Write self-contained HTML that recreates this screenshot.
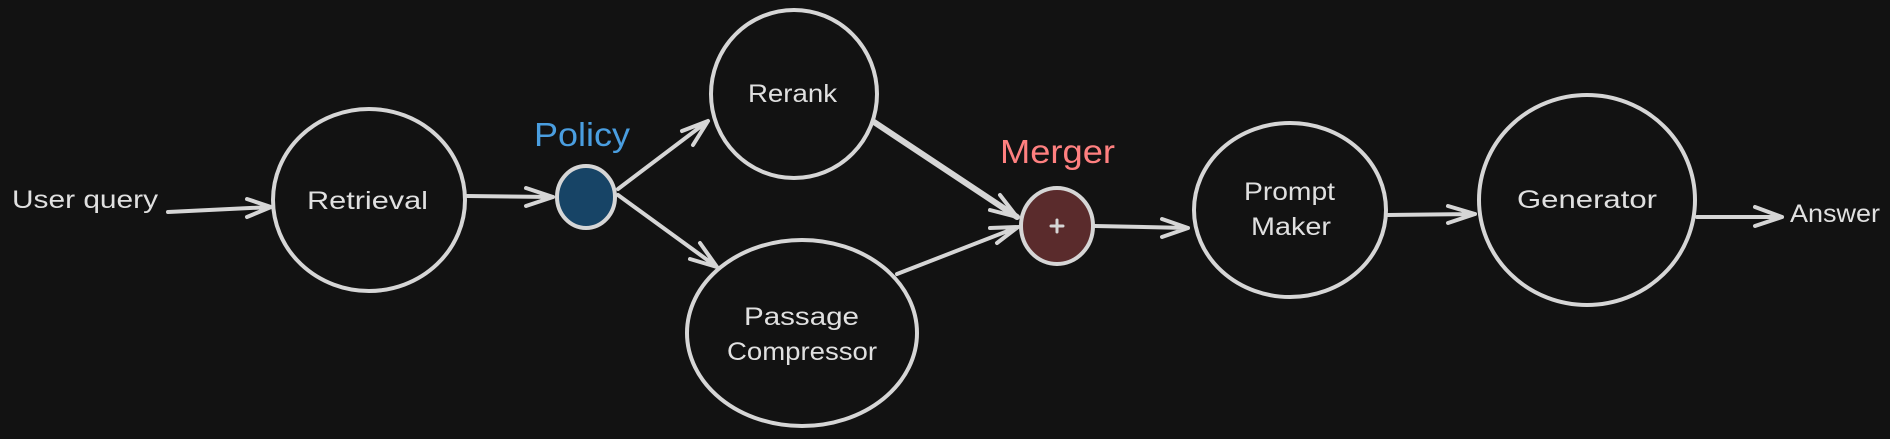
<!DOCTYPE html>
<html>
<head>
<meta charset="utf-8">
<style>
  html,body{margin:0;padding:0;background:#121212;}
  body{width:1890px;height:439px;overflow:hidden;}
  svg{display:block;}
  text{font-family:"Liberation Sans","DejaVu Sans",sans-serif;}
</style>
</head>
<body>
<svg width="1890" height="439" viewBox="0 0 1890 439" xmlns="http://www.w3.org/2000/svg">
  <rect width="1890" height="439" fill="#121212"/>

  <g fill="none" stroke="#d6d6d6" stroke-width="4" stroke-linecap="round" stroke-linejoin="round">
    <!-- circles -->
    <ellipse cx="369" cy="200" rx="96" ry="91"/>
    <ellipse cx="794" cy="94" rx="83" ry="84"/>
    <ellipse cx="802" cy="333" rx="115" ry="93"/>
    <ellipse cx="1290" cy="210" rx="96" ry="87"/>
    <ellipse cx="1587" cy="200" rx="108" ry="105"/>

    <!-- arrows -->
    <path d="M168 212 L271 207 M247 199 L271 207 L247 217"/>
    <path d="M467 196 L553 197 M526 188 L553 197 L526 206"/>
    <path d="M618 189 L708 121 M682 131 L708 121 L693 145"/>
    <path d="M618 195 L717 267 M700 243 L717 267 L690 259"/>
    <path d="M874 122 L1017 217" stroke-width="6"/>
    <path d="M990 210 L1017 217 L1000 195"/>
    <path d="M897 274 L1018 227 M990 228 L1018 227 L997 243"/>
    <path d="M1095 226 L1188 228 M1162 219 L1188 228 L1162 237"/>
    <path d="M1388 215 L1475 214 M1448 206 L1475 214 L1448 223"/>
    <path d="M1697 217 L1782 217 M1755 207 L1782 217 L1755 226"/>
  </g>

  <!-- Policy node -->
  <ellipse cx="586" cy="197" rx="29" ry="31" fill="#174466" stroke="#d6d6d6" stroke-width="4"/>
  <!-- Merger node -->
  <ellipse cx="1057" cy="226" rx="36" ry="38" fill="#5a2b2c" stroke="#d6d6d6" stroke-width="4"/>
  <path d="M1051 226 L1063 226 M1057 220 L1057 232" stroke="#d6d6d6" stroke-width="3" stroke-linecap="round"/>

  <!-- labels -->
  <g fill="#e0e0e0" font-size="25">
    <text x="12" y="208" textLength="146" lengthAdjust="spacingAndGlyphs">User query</text>
    <text x="307" y="209" textLength="121" lengthAdjust="spacingAndGlyphs">Retrieval</text>
    <text x="748" y="102" textLength="89" lengthAdjust="spacingAndGlyphs">Rerank</text>
    <text x="744" y="325" textLength="115" lengthAdjust="spacingAndGlyphs">Passage</text>
    <text x="727" y="360" textLength="150" lengthAdjust="spacingAndGlyphs">Compressor</text>
    <text x="1244" y="200" textLength="91" lengthAdjust="spacingAndGlyphs">Prompt</text>
    <text x="1251" y="235" textLength="80" lengthAdjust="spacingAndGlyphs">Maker</text>
    <text x="1517" y="208" textLength="140" lengthAdjust="spacingAndGlyphs">Generator</text>
    <text x="1790" y="222" textLength="90" lengthAdjust="spacingAndGlyphs">Answer</text>
  </g>
  <text x="534" y="146" font-size="33" fill="#4a9ee0" textLength="96" lengthAdjust="spacingAndGlyphs">Policy</text>
  <text x="1000" y="163" font-size="33" fill="#ff8080" textLength="115" lengthAdjust="spacingAndGlyphs">Merger</text>
</svg>
</body>
</html>
